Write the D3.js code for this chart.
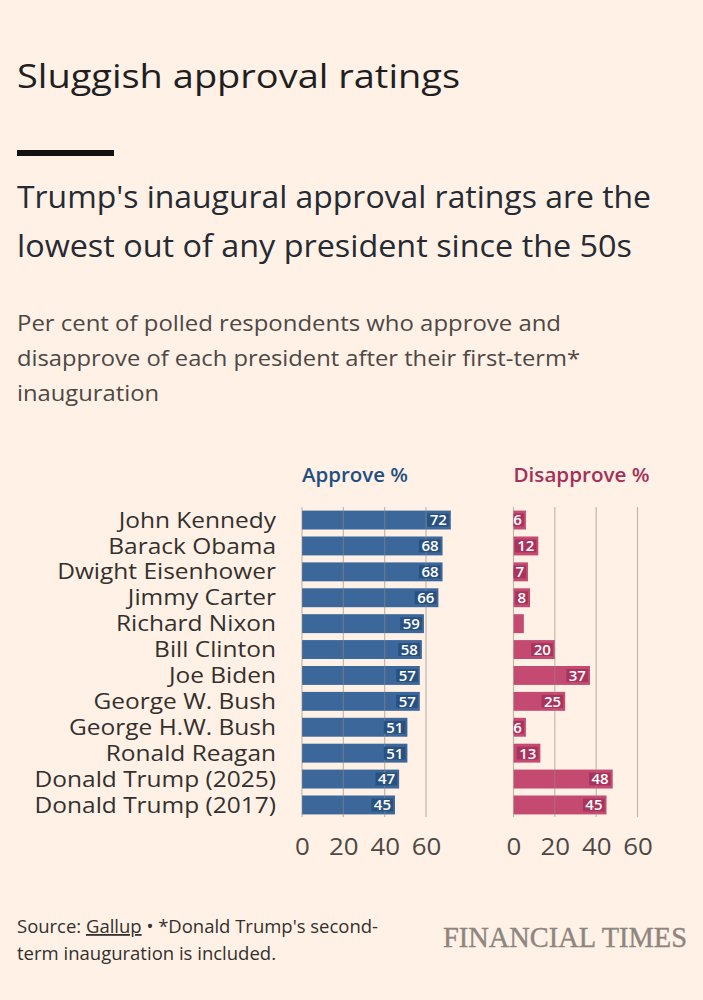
<!DOCTYPE html>
<html><head><meta charset="utf-8">
<script src="https://cdn.jsdelivr.net/npm/d3@7"></script>
<style>
html,body{margin:0;padding:0;background:#fff1e5;}
svg{display:block;}
</style></head>
<body>
<script>
const presidents = ["John Kennedy","Barack Obama","Dwight Eisenhower","Jimmy Carter","Richard Nixon","Bill Clinton","Joe Biden","George W. Bush","George H.W. Bush","Ronald Reagan","Donald Trump (2025)","Donald Trump (2017)"];
const approve = [72,68,68,66,59,58,57,57,51,51,47,45];
const disapprove = [6,12,7,8,5,20,37,25,6,13,48,45];
const ticks = [0,20,40,60];

const W=703,H=1000;
const font = "'Open Sans', sans-serif";
const svg = d3.select("body").append("svg").attr("width",W).attr("height",H);
svg.append("rect").attr("width",W).attr("height",H).attr("fill","#fff1e5");

function stretch(sel, factor){
  sel.each(function(){
    const w = this.getComputedTextLength();
    d3.select(this).attr("textLength", w*factor).attr("lengthAdjust","spacingAndGlyphs");
  });
}
function fitTo(sel, width){
  sel.attr("textLength", width).attr("lengthAdjust","spacingAndGlyphs");
}

const title = svg.append("text").attr("x",17).attr("y",88).text("Sluggish approval ratings")
  .attr("font-family",font).attr("font-size",33).attr("fill","#1f1f1f");
fitTo(title, 443);
svg.append("rect").attr("x",17).attr("y",150).attr("width",97).attr("height",6).attr("fill","#111");
const subW=[634,615];
["Trump's inaugural approval ratings are the","lowest out of any president since the 50s"].forEach((t,i)=>{
  const s = svg.append("text").attr("x",17).attr("y",208+i*49).text(t)
   .attr("font-family",font).attr("font-size",30.5).attr("fill","#262a33");
  fitTo(s, subW[i]);
});
const descW=[544,563,142];
["Per cent of polled respondents who approve and","disapprove of each president after their first-term*","inauguration"].forEach((t,i)=>{
  const s = svg.append("text").attr("x",17).attr("y",331+i*35).text(t)
   .attr("font-family",font).attr("font-size",22.5).attr("fill","#4d4845");
  fitTo(s, descW[i]);
});

const y = d3.scaleBand().domain(presidents).range([508,817]).paddingInner(0.27).paddingOuter(0.1);
const xA = d3.scaleLinear().domain([0,60]).range([302,426]);
const xD = d3.scaleLinear().domain([0,60]).range([513.5,637.5]);

const names = svg.append("g").selectAll("text").data(presidents).join("text")
  .attr("x",276).attr("y",d=>y(d)+y.bandwidth()/2).attr("dy","0.36em")
  .attr("text-anchor","end").attr("font-family",font).attr("font-size",21).attr("fill","#33302e").text(d=>d);
stretch(names, 1.165);

function panel(x, vals, color, dark, title, tcolor, tw){
  const g = svg.append("g");
  const ht = g.append("text").attr("x",x(0)).attr("y",482).text(title)
   .attr("font-family",font).attr("font-size",20).attr("font-weight",600).attr("fill",tcolor);
  fitTo(ht, tw);
  g.selectAll("rect.bar").data(presidents).join("rect").attr("class","bar")
   .attr("x",x(0)).attr("y",d=>y(d)).attr("height",y.bandwidth())
   .attr("width",(d,i)=>x(vals[i])-x(0)).attr("fill",color);
  g.selectAll("line.grid").data(ticks).join("line").attr("class","grid")
   .attr("x1",d=>x(d)).attr("x2",d=>x(d)).attr("y1",507).attr("y2",817)
   .attr("stroke","#8f8681").attr("stroke-opacity",0.55).attr("stroke-width",1.2);
  const ax = d3.axisBottom(x).tickValues(ticks).tickSize(0).tickPadding(0);
  const axg = g.append("g").attr("transform","translate(0,855)").call(ax);
  axg.select(".domain").remove();
  axg.selectAll("text").attr("font-family",font).attr("font-size",23.5).attr("fill","#4d4845").attr("dy",0);
  stretch(axg.selectAll("text"), 1.1);
  presidents.forEach((p,i)=>{
    const v = vals[i];
    if(v<6) return;
    const txt = String(v);
    const tw2 = txt.length*8.8+4;
    const xe = x(v)-2;
    const xs = Math.max(x(0), xe-tw2);
    g.append("rect").attr("x",xs).attr("y",y(p)+3).attr("width",xe-xs).attr("height",y.bandwidth()-6).attr("fill",dark);
    g.append("text").attr("x",xe-2).attr("y",y(p)+y.bandwidth()/2).attr("dy","0.36em")
     .attr("text-anchor","end").attr("font-family",font).attr("font-size",15).attr("font-weight",600)
     .attr("fill","#fff").text(txt);
  });
}
panel(xA, approve, "#3b679a", "#28517f", "Approve %", "#1f4f82", 106);
panel(xD, disapprove, "#c44a72", "#a8345c", "Disapprove %", "#a3305a", 136);

const src = svg.append("text").attr("x",17).attr("y",933).attr("font-family",font).attr("font-size",18).attr("fill","#33302e");
src.append("tspan").text("Source: ");
src.append("tspan").text("Gallup").attr("text-decoration","underline");
src.append("tspan").text(" \u2022 *Donald Trump's second-");
fitTo(src, 361);
const src2 = svg.append("text").attr("x",17).attr("y",960).attr("font-family",font).attr("font-size",18).attr("fill","#33302e").text("term inauguration is included.");
fitTo(src2, 259);
svg.append("text").attr("x",443).attr("y",947).attr("font-family","'Liberation Serif', serif")
  .attr("font-size",30).attr("fill","#8e857f").attr("stroke","#8e857f").attr("stroke-width",0.4)
  .attr("textLength",244).attr("lengthAdjust","spacingAndGlyphs").text("FINANCIAL TIMES");
</script>
</body></html>
